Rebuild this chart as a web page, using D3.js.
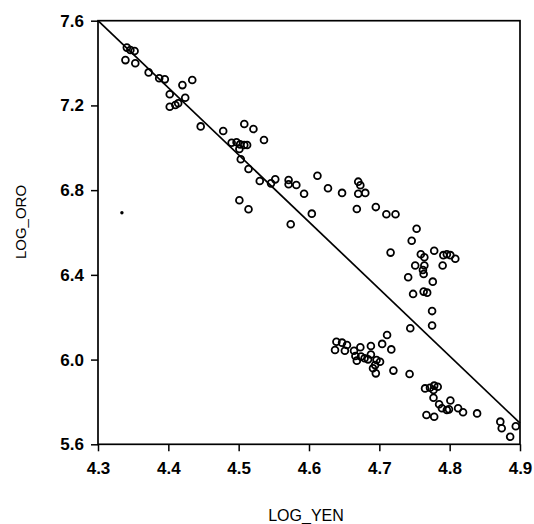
<html><head>
<meta charset="utf-8">
<title>LOG_ORO vs LOG_YEN</title>
<script type="text/javascript" src="https://d3js.org/d3.v7.min.js"></script>
<style>
  body { margin: 0; background: #fff; }
  text { font-family: "Liberation Sans", Arial, sans-serif; fill: #000; }
</style>
</head>
<body>
<div id="chart"></div>
<script>

// data
var logYen = [4.341,4.346,4.352,4.339,4.353,4.372,4.387,4.395,4.420,4.434,
  4.402,4.424,4.414,4.410,4.402,4.446,4.478,4.508,4.521,4.536,
  4.490,4.497,4.502,4.508,4.512,4.501,4.503,4.514,4.530,4.546,
  4.552,4.571,4.571,4.582,4.593,4.612,4.627,4.501,4.514,4.604,
  4.574,4.647,4.670,4.673,4.670,4.680,4.668,4.695,4.710,4.723,
  4.753,4.746,4.716,4.759,4.764,4.778,4.791,4.796,4.801,4.808,
  4.790,4.751,4.764,4.762,4.763,4.741,4.776,4.748,4.763,4.768,
  4.775,4.775,4.744,4.711,4.639,4.647,4.654,4.637,4.651,4.664,
  4.673,4.688,4.704,4.717,4.666,4.674,4.668,4.679,4.684,4.688,
  4.696,4.701,4.694,4.691,4.695,4.720,4.743,4.765,4.772,4.778,
  4.783,4.777,4.777,4.801,4.785,4.789,4.796,4.799,4.812,4.819,
  4.839,4.767,4.778,4.872,4.874,4.886,4.894];
var logOro = [7.473,7.462,7.457,7.414,7.399,7.356,7.328,7.323,7.296,7.320,
  7.253,7.236,7.210,7.202,7.194,7.101,7.079,7.112,7.089,7.037,
  7.024,7.026,7.016,7.013,7.013,6.994,6.946,6.900,6.843,6.832,
  6.851,6.848,6.828,6.824,6.783,6.868,6.809,6.752,6.710,6.689,
  6.639,6.787,6.840,6.823,6.783,6.787,6.711,6.720,6.686,6.686,
  6.618,6.561,6.505,6.497,6.483,6.514,6.493,6.497,6.493,6.476,
  6.444,6.444,6.444,6.423,6.404,6.389,6.368,6.310,6.321,6.316,
  6.229,6.161,6.148,6.116,6.084,6.080,6.069,6.045,6.042,6.042,
  6.058,6.064,6.074,6.048,6.017,6.014,5.995,6.006,6.001,6.024,
  5.998,5.990,5.974,5.959,5.935,5.948,5.932,5.864,5.867,5.877,
  5.872,5.856,5.820,5.807,5.789,5.770,5.762,5.765,5.770,5.751,
  5.746,5.738,5.730,5.707,5.676,5.636,5.685];

// fitted line end points
var fitYen = [4.3, 4.9];
var fitOro = [7.6, 5.70];

// stray dot in the scan
var strayYen = [4.334];
var strayOro = [6.693];

var xTicks = [4.3, 4.4, 4.5, 4.6, 4.7, 4.8, 4.9];
var yTicks = [5.6, 6.0, 6.4, 6.8, 7.2, 7.6];

var width = 534, height = 524;
var plotLeft = 98, plotRight = 520, plotTop = 20.7, plotBottom = 444.3;

var svg = d3.select("#chart")
  .append("svg")
    .attr("width", width)
    .attr("height", height);

var xScale = d3.scaleLinear().domain([4.3, 4.9]).range([plotLeft, plotRight]);
var yScale = d3.scaleLinear().domain([5.6, 7.6]).range([plotBottom, plotTop]);

//frame
svg.append("rect")
  .attr("x", xScale(4.3))
  .attr("y", yScale(7.6))
  .attr("width", xScale(4.9) - xScale(4.3))
  .attr("height", yScale(5.6) - yScale(7.6))
  .attr("fill", "none")
  .attr("stroke", "#000")
  .attr("stroke-width", 1.7);

//x axis
var xAxis = d3.axisBottom(xScale)
  .tickValues(xTicks)
  .tickFormat(d3.format(".1f"))
  .tickSize(7)
  .tickSizeOuter(0)
  .tickPadding(11);

var gx = svg.append("g")
  .attr("transform", "translate(0," + plotBottom + ")")
  .call(xAxis);

//y axis
var yAxis = d3.axisLeft(yScale)
  .tickValues(yTicks)
  .tickFormat(d3.format(".1f"))
  .tickSize(7)
  .tickSizeOuter(0)
  .tickPadding(7);

var gy = svg.append("g")
  .attr("transform", "translate(" + plotLeft + ",0)")
  .call(yAxis);

[gx, gy].forEach(function(g) {
  g.select(".domain").remove();
  g.selectAll("line").attr("stroke", "#000").attr("stroke-width", 1.5);
  g.selectAll("text")
    .style("font-family", "'Liberation Sans', Arial, sans-serif")
    .style("font-size", "17px")
    .style("font-weight", "bold")
    .attr("fill", "#000");
});

//regression line
svg.append("path")
  .datum(d3.range(fitYen.length))
  .attr("fill", "none")
  .attr("stroke", "#000")
  .attr("stroke-width", 1.7)
  .attr("d", d3.line()
    .x(function(i) { return xScale(fitYen[i]); })
    .y(function(i) { return yScale(fitOro[i]); }));

//points
svg.append("g")
  .selectAll("circle")
  .data(d3.range(logYen.length))
  .enter()
  .append("circle")
    .attr("cx", function(i) { return xScale(logYen[i]); })
    .attr("cy", function(i) { return yScale(logOro[i]); })
    .attr("r", 3.4)
    .attr("fill", "none")
    .attr("stroke", "#000")
    .attr("stroke-width", 1.8);

svg.append("g")
  .selectAll("circle")
  .data(d3.range(strayYen.length))
  .enter()
  .append("circle")
    .attr("cx", function(i) { return xScale(strayYen[i]); })
    .attr("cy", function(i) { return yScale(strayOro[i]); })
    .attr("r", 1.7)
    .attr("fill", "#000");

//axis titles
svg.append("text")
  .attr("x", 306)
  .attr("y", 521)
  .attr("text-anchor", "middle")
  .style("font-size", "16px")
  .text("LOG_YEN");

svg.append("text")
  .attr("transform", "translate(26,222) rotate(-90)")
  .attr("text-anchor", "middle")
  .style("font-size", "15px")
  .text("LOG_ORO");

</script>
</body></html>
